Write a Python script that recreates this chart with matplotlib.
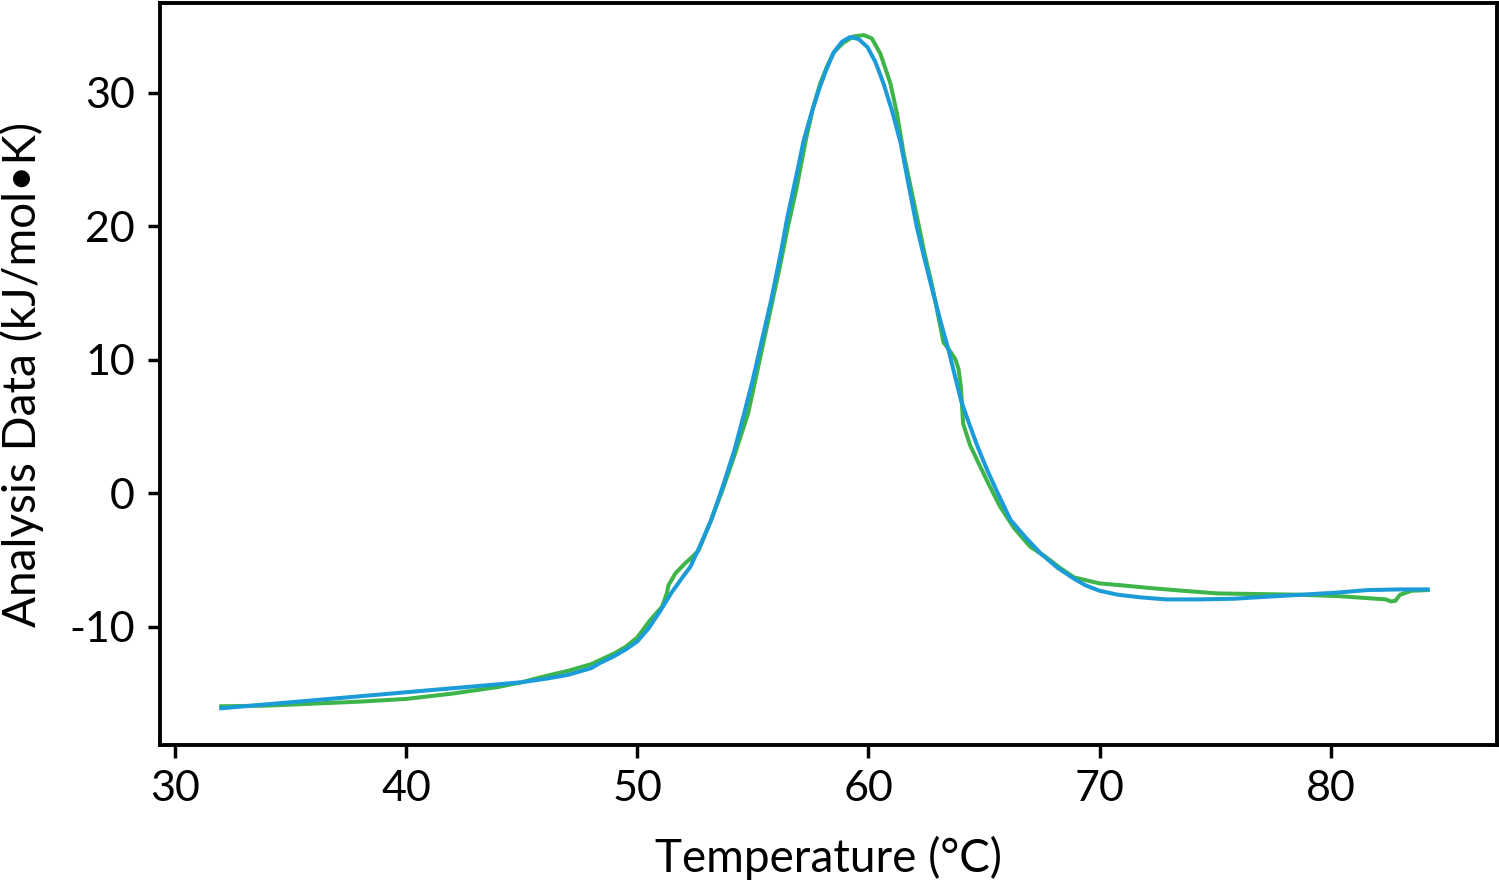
import matplotlib
matplotlib.use("Agg")
import matplotlib.pyplot as plt

# Blue trace
blue_x = [32.0, 34, 36, 38, 40, 42, 44, 45, 46, 47, 48, 48.4, 49, 49.5, 50, 50.5, 51.0,
          51.5, 52.0, 52.3, 52.7, 53.2, 53.7, 54.2, 54.6, 55.0, 55.4, 55.8, 56.2, 56.5,
          56.9, 57.2, 57.56, 57.9, 58.2, 58.5, 58.86, 59.2, 59.58, 59.96, 60.3, 60.65,
          61.03, 61.4, 61.75, 62.1, 62.45, 62.8, 63.15, 63.5, 64.0, 64.3, 64.7, 65.15,
          65.6, 66.15, 66.8, 67.45, 68.2, 68.9, 69.4, 70.0, 70.8, 71.8, 72.9, 74.3,
          75.8, 77.2, 78.7, 80.2, 81.6, 83.0, 84.2]
blue_y = [-16.1, -15.8, -15.5, -15.2, -14.9, -14.6, -14.3, -14.15, -13.9, -13.6, -13.1,
          -12.7, -12.2, -11.7, -11.1, -10.1, -8.8, -7.4, -6.2, -5.5, -4.0, -2.0, 0.5,
          3.2, 5.8, 8.5, 11.5, 14.5, 17.9, 20.7, 23.9, 26.4, 28.6, 30.4, 31.8, 33.0,
          33.8, 34.15, 34.0, 33.4, 32.3, 30.7, 28.6, 26.2, 23.0, 19.9, 17.4, 15.0,
          12.7, 10.5, 7.0, 5.5, 3.6, 1.7, 0.0, -2.0, -3.3, -4.5, -5.6, -6.4, -6.9, -7.3,
          -7.6, -7.8, -7.95, -7.95, -7.9, -7.75, -7.6, -7.45, -7.25, -7.2, -7.2]

# Green trace
green_x = [32.0, 34, 36, 38, 40, 42, 44, 45, 46, 47, 48, 49, 49.5, 50, 50.56, 51.07,
           51.28, 51.35, 51.65, 52.1, 52.3, 52.65, 53.2, 53.7, 54.2, 54.8, 55.3, 55.8,
           56.2, 56.5, 56.9, 57.3, 57.6, 57.9, 58.2, 58.5, 58.9, 59.36, 59.8, 60.15,
           60.52, 60.95, 61.24, 61.53, 62.1, 62.45, 62.8, 63.25, 63.55, 63.77, 63.9,
           64.0, 64.1, 64.4, 64.7, 65.2, 65.7, 66.3, 67.0, 67.7, 68.3, 68.9, 70.0, 71.0,
           72.2, 73.6, 75.1, 76.9, 78.7, 80.3, 82.0, 82.4, 82.6, 82.8, 83.0, 83.5, 84.2]
green_y = [-15.95, -15.9, -15.75, -15.6, -15.4, -15.0, -14.5, -14.15, -13.7, -13.3,
           -12.8, -12.0, -11.5, -10.8, -9.5, -8.5, -7.5, -6.9, -6.0, -5.2, -4.9, -4.3,
           -2.0, 0.3, 2.8, 6.0, 10.0, 14.0, 17.2, 19.8, 22.9, 26.5, 28.8, 30.6, 31.9,
           33.0, 33.7, 34.2, 34.3, 34.05, 32.9, 30.7, 28.4, 25.4, 20.7, 17.8, 15.2,
           11.3, 10.6, 10.0, 9.3, 8.0, 5.2, 3.6, 2.5, 0.7, -1.0, -2.6, -4.0, -4.8, -5.6,
           -6.3, -6.75, -6.9, -7.1, -7.3, -7.5, -7.55, -7.6, -7.7, -7.9, -7.95, -8.1,
           -8.05, -7.6, -7.3, -7.25]

x_ticks = [30, 40, 50, 60, 70, 80]
y_ticks = [-10, 0, 10, 20, 30]

plt.rcParams['font.family'] = ['Lato', 'DejaVu Sans']
plt.rcParams['axes.unicode_minus'] = False

fig = plt.figure(figsize=(14.99, 8.9), dpi=100)
ax = fig.add_axes([0.1067, 0.1629, 0.892, 0.8337])

ax.plot(green_x, green_y, color='#3db54a', lw=2.9, solid_joinstyle='round')
ax.plot(blue_x, blue_y, color='#1b9bd7', lw=2.9, solid_joinstyle='round')

ax.set_xlim(29.35, 87.2)
ax.set_ylim(-18.85, 36.7)
ax.set_xticks(x_ticks)
ax.set_yticks(y_ticks)
ax.tick_params(direction='out', length=9, width=2.5, labelsize=31, pad=9)
for s in ax.spines.values():
    s.set_linewidth(2.8)

ax.set_xlabel('Temperature (°C)', fontsize=33, labelpad=20)
ax.set_ylabel('Analysis Data (kJ/mol•K)', fontsize=33, labelpad=18)

fig.savefig('out.png', dpi=100)
